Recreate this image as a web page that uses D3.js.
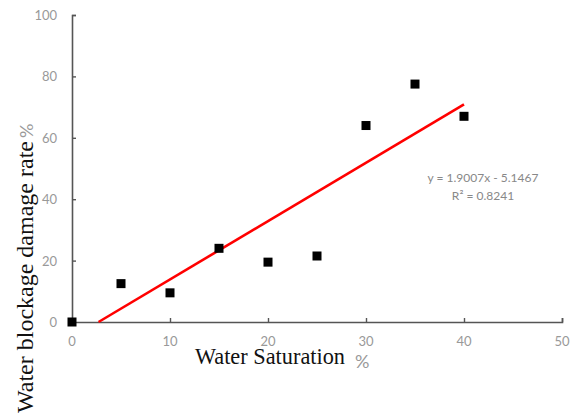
<!DOCTYPE html>
<html>
<head>
<meta charset="utf-8">
<script src="https://cdn.jsdelivr.net/npm/d3@7"></script>
<style>
  body { margin: 0; background: #fff; }
  svg { display: block; }
</style>
</head>
<body>
<svg id="viz"></svg>
<script>
// data
var saturation = [0, 5, 10, 15, 20, 25, 30, 35, 40];
var damageRate = [0, 12.5, 9.5, 24, 19.5, 21.5, 64, 77.5, 67];
var xTicks = [0, 10, 20, 30, 40, 50];
var yTicks = [0, 20, 40, 60, 80, 100];
var fitSlope = 1.9007;
var fitIntercept = -5.1467;
var fitLabels = ["y = 1.9007x - 5.1467", "R\u00b2 = 0.8241"];

var width = 570, height = 417;
var svg = d3.select("#viz").attr("width", width).attr("height", height);

var x = d3.scaleLinear().domain([0, 50]).range([72, 562]);
var y = d3.scaleLinear().domain([0, 100]).range([322, 15]);

var axisColor = "#555";
var tickColor = "#999";
var sans = "Lato, 'Open Sans', sans-serif";
var serif = "'Liberation Serif', 'DejaVu Serif', serif";

// x axis, ticks point inside
var gx = svg.append("g").attr("transform", "translate(0," + y(0) + ")")
    .call(d3.axisTop(x).tickValues(xTicks).tickSize(4).tickFormat(""));
gx.select(".domain").attr("stroke", axisColor).attr("stroke-width", 1.6);
gx.selectAll(".tick line").attr("stroke", axisColor).attr("stroke-width", 1.4);

svg.selectAll(".xlab").data(xTicks).enter().append("text")
    .attr("x", function(d) { return x(d); })
    .attr("y", y(0) + 24)
    .attr("text-anchor", "middle")
    .attr("font-family", sans)
    .attr("font-size", 13)
    .attr("fill", tickColor)
    .text(function(d) { return d; });

// y axis, ticks point inside
var gy = svg.append("g").attr("transform", "translate(" + x(0) + ",0)")
    .call(d3.axisRight(y).tickValues(yTicks).tickSize(4).tickFormat(""));
gy.select(".domain").attr("stroke", axisColor).attr("stroke-width", 1.6);
gy.selectAll(".tick line").attr("stroke", axisColor).attr("stroke-width", 1.4);

svg.selectAll(".ylab").data(yTicks).enter().append("text")
    .attr("x", 57)
    .attr("y", function(d) { return y(d) + 5; })
    .attr("text-anchor", "end")
    .attr("font-family", sans)
    .attr("font-size", 13)
    .attr("fill", tickColor)
    .text(function(d) { return d; });

// trend line from where it crosses zero to the last point
var x0 = -fitIntercept / fitSlope;
var x1 = d3.max(saturation);
svg.append("line")
    .attr("x1", x(x0)).attr("y1", y(fitSlope * x0 + fitIntercept))
    .attr("x2", x(x1)).attr("y2", y(fitSlope * x1 + fitIntercept))
    .attr("stroke", "#ff0000")
    .attr("stroke-width", 2.6);

// points
var pts = saturation.map(function(s, i) { return [s, damageRate[i]]; });
svg.selectAll(".pt").data(pts).enter().append("rect")
    .attr("x", function(d) { return x(d[0]) - 4.5; })
    .attr("y", function(d) { return y(d[1]) - 4.5; })
    .attr("width", 9).attr("height", 9)
    .attr("fill", "#000");

// fit equation
svg.selectAll(".fit").data(fitLabels).enter().append("text")
    .attr("x", 483)
    .attr("y", function(d, i) { return 182 + i * 18; })
    .attr("text-anchor", "middle")
    .attr("font-family", sans)
    .attr("font-size", 12)
    .attr("fill", "#888")
    .text(function(d) { return d; });

// axis titles: serif words squeezed a bit, gray sans percent sign
svg.append("text")
    .attr("x", 195).attr("y", 364)
    .attr("font-family", serif)
    .attr("font-size", 23)
    .attr("textLength", 150).attr("lengthAdjust", "spacingAndGlyphs")
    .attr("fill", "#111")
    .text("Water Saturation");
svg.append("text")
    .attr("x", 355).attr("y", 368)
    .attr("font-family", sans)
    .attr("font-size", 18)
    .attr("fill", "#999")
    .text("%");

svg.append("text")
    .attr("transform", "translate(33,413) rotate(-90)")
    .attr("font-family", serif)
    .attr("font-size", 24)
    .attr("textLength", 272).attr("lengthAdjust", "spacingAndGlyphs")
    .attr("fill", "#111")
    .text("Water blockage damage rate");
svg.append("text")
    .attr("transform", "translate(33,138) rotate(-90)")
    .attr("font-family", sans)
    .attr("font-size", 18)
    .attr("fill", "#999")
    .text("%");
</script>
</body>
</html>
